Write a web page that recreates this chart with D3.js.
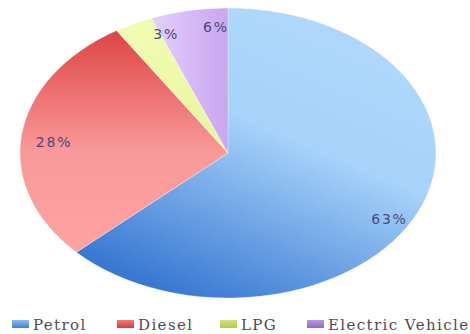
<!DOCTYPE html>
<html>
<head>
<meta charset="utf-8">
<script src="https://cdn.jsdelivr.net/npm/d3@7"></script>
<style>
  body { margin: 0; background: #fff; }
  svg { display: block; }
</style>
</head>
<body>
<svg id="chart" width="470" height="334"></svg>
<script>
// data
const fuels = ["Petrol", "Diesel", "LPG", "Electric Vehicle"];
const shares = [63, 28, 3, 6];

// look
const sliceStops = [
    [["0", "#aed7fb"], ["0.35", "#a7d3fa"], ["1", "#3978d2"]],
    [["0", "#de4545"], ["0.55", "#f99a9a"], ["1", "#ffa2a2"]],
    [["0", "#f3fcb6"], ["1", "#e9f59c"]],
    [["0", "#e4d0fc"], ["1", "#c9a5f0"]]
];
const sliceDir = [
    {x1: 0.75, y1: 0.15, x2: 0.3, y2: 1},
    {x1: 0.5, y1: 0, x2: 0.5, y2: 1},
    {x1: 0, y1: 0, x2: 1, y2: 1},
    {x1: 0, y1: 0, x2: 1, y2: 0}
];
const swatchStops = [
    ["#3f7fd6", "#8cbdf0"],
    ["#d93c3c", "#f07a7a"],
    ["#b4c94a", "#d4e27c"],
    ["#9268c6", "#b898e4"]
];
// label placement, nudged like Excel's best fit
const labelShift = [7, -2, 7, 7];   // degrees
const labelFrac = [0.9, 0.84, 0.87, 0.87];

const svg = d3.select("#chart");
const defs = svg.append("defs");

const cx = 228, cy = 153, rx = 208, ry = 145;

sliceStops.forEach((stops, i) => {
    const g = defs.append("linearGradient").attr("id", "slice" + i)
        .attr("x1", sliceDir[i].x1).attr("y1", sliceDir[i].y1)
        .attr("x2", sliceDir[i].x2).attr("y2", sliceDir[i].y2);
    stops.forEach(s => g.append("stop").attr("offset", s[0]).attr("stop-color", s[1]));
});
swatchStops.forEach((c, i) => {
    const g = defs.append("linearGradient").attr("id", "sw" + i)
        .attr("x1", 0).attr("y1", 1).attr("x2", 0).attr("y2", 0);
    g.append("stop").attr("offset", 0).attr("stop-color", c[0]);
    g.append("stop").attr("offset", 1).attr("stop-color", c[1]);
});

const pie = d3.pie().sort(null).value(d => d);
const arcs = pie(shares);
const arc = d3.arc().innerRadius(0).outerRadius(ry);

// pie drawn as a circle, stretched into the ellipse
const pieG = svg.append("g")
    .attr("transform", `translate(${cx},${cy}) scale(${rx / ry},1)`);

pieG.selectAll("path.slice")
    .data(arcs)
    .join("path")
    .attr("class", "slice")
    .attr("d", arc)
    .attr("fill", (d, i) => `url(#slice${i})`)
    .attr("stroke", "#ffffff")
    .attr("stroke-opacity", 0.5)
    .attr("stroke-width", 0.6)
    .attr("vector-effect", "non-scaling-stroke");

// percent labels
const labelAngle = (d, i) => (d.startAngle + d.endAngle) / 2 + labelShift[i] * Math.PI / 180;
svg.append("g").selectAll("text")
    .data(arcs)
    .join("text")
    .attr("x", (d, i) => cx + rx * labelFrac[i] * Math.sin(labelAngle(d, i)))
    .attr("y", (d, i) => cy - ry * labelFrac[i] * Math.cos(labelAngle(d, i)))
    .attr("dy", "0.35em")
    .attr("text-anchor", "middle")
    .style("font-family", "'DejaVu Sans', sans-serif")
    .style("font-size", "14px")
    .style("letter-spacing", "1.8px")
    .style("fill", "#4a4a7c")
    .text(d => d.data + "%");

// legend
const legendX = [12, 117, 220, 307];   // swatch starts
const legend = svg.append("g");
fuels.forEach((name, i) => {
    legend.append("rect")
        .attr("x", legendX[i]).attr("y", 320)
        .attr("width", 17).attr("height", 8)
        .attr("fill", `url(#sw${i})`);
    legend.append("text")
        .attr("x", legendX[i] + 21).attr("y", 330)
        .style("font-family", "'DejaVu Serif', serif")
        .style("font-size", "15px")
        .style("letter-spacing", "1.4px")
        .style("fill", "#4c4c58")
        .text(name);
});
</script>
</body>
</html>
